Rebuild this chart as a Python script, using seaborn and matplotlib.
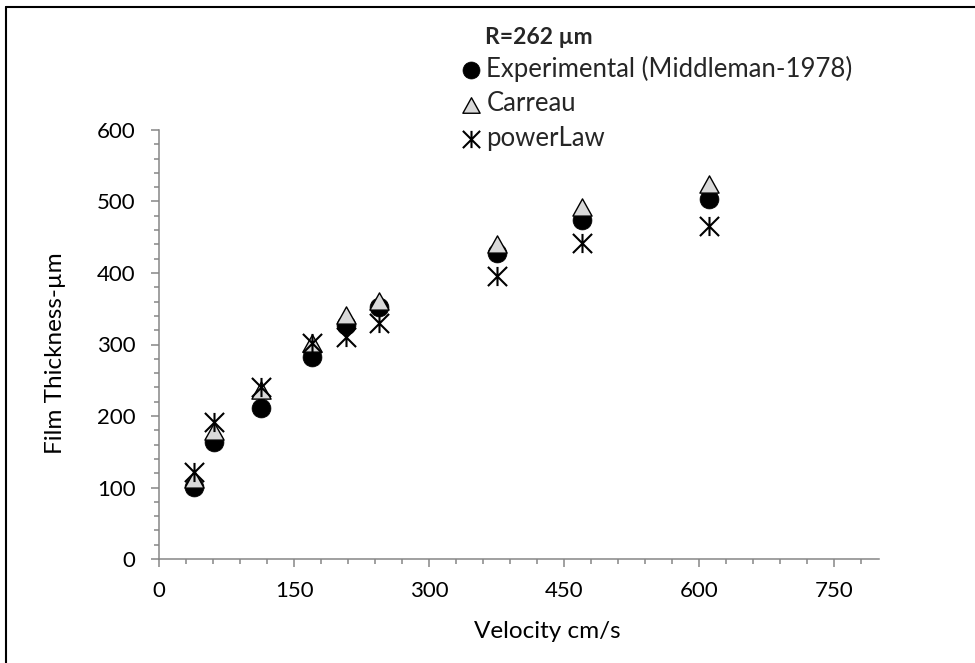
import numpy as np
import pandas as pd
import matplotlib
matplotlib.use("Agg")
import matplotlib.pyplot as plt
import seaborn as sns
from matplotlib.path import Path
from matplotlib.lines import Line2D
from matplotlib.ticker import MultipleLocator

# ---- data ----
velocity = [38, 61, 113, 170, 207, 244, 375, 470, 611]
experimental = [101, 164, 211, 283, 327, 353, 428, 474, 503]
carreau = [112, 179, 237, 302, 341, 361, 441, 492, 525]
power_law = [122, 192, 241, 302, 310, 330, 396, 442, 466]
series_names = ["Experimental (Middleman-1978)", "Carreau", "powerLaw"]
legend_title = "R=262 µm"
x_label = "Velocity cm/s"
y_label = "Film Thickness-µm"
x_ticks = [0, 150, 300, 450, 600, 750]
y_ticks = [0, 100, 200, 300, 400, 500, 600]

sns.set_theme(style="white")
plt.rcParams["font.family"] = ["Lato", "DejaVu Sans"]

W, H = 975, 663
fig = plt.figure(figsize=(W / 100, H / 100), dpi=100)
ax = fig.add_axes([159.3 / W, (H - 559) / H, 720 / W, 429 / H])

# custom markers
tri = Path([(0, 0.9), (-1, -0.9), (1, -0.9), (0, 0.9)],
           [Path.MOVETO, Path.LINETO, Path.LINETO, Path.CLOSEPOLY])
star = Path([(0, -1), (0, 1), (-1, -1), (1, 1), (-1, 1), (1, -1)],
            [Path.MOVETO, Path.LINETO] * 3)

sns.scatterplot(x=velocity, y=experimental, marker="o", s=185, color="black",
                edgecolor="black", linewidth=0.5, ax=ax, label=series_names[0], zorder=3)
sns.scatterplot(x=velocity, y=carreau, marker=tri, s=190, color="#d9d9d9",
                edgecolor="black", linewidth=1.0, ax=ax, label=series_names[1], zorder=4)
sns.scatterplot(x=velocity, y=power_law, marker=star, s=190, color="black",
                edgecolor="black", linewidth=1.5, ax=ax, label=series_names[2], zorder=5)

ax.set_xlim(0, 800)
ax.set_ylim(0, 600)
ax.set_xticks(x_ticks)
ax.set_yticks(y_ticks)
ax.xaxis.set_minor_locator(MultipleLocator(30))
ax.yaxis.set_minor_locator(MultipleLocator(20))

for s in ["top", "right"]:
    ax.spines[s].set_visible(False)
for s in ["left", "bottom"]:
    ax.spines[s].set_color("#868686")
    ax.spines[s].set_linewidth(1.1)

ax.tick_params(which="major", direction="out", length=6, width=1.1, color="#868686",
               labelsize=16, labelcolor="black")
ax.tick_params(which="minor", direction="out", length=3.5, width=1.1, color="#868686")
ax.tick_params(axis="x", which="major", pad=10, bottom=True)
ax.tick_params(axis="x", which="minor", bottom=True)
ax.tick_params(axis="y", which="major", pad=11, left=True)
ax.tick_params(axis="y", which="minor", left=True)

ax.set_xlabel(x_label, fontsize=17.5, color="black")
ax.set_ylabel(y_label, fontsize=17.5, color="black")
ax.xaxis.label.set_va("center")
ax.yaxis.label.set_va("center")
ax.xaxis.set_label_coords((547 - 159.3) / 720, (559 - 631) / 429)
ax.yaxis.set_label_coords((55 - 159.3) / 720, (559 - 353) / 429)

handles, labels = ax.get_legend_handles_labels()
if ax.get_legend() is not None:
    ax.get_legend().remove()
fig.legend(handles, labels, loc="upper left", bbox_to_anchor=(458 / W, 1 - 56 / H),
           frameon=False, fontsize=18.5, handlelength=1.0, handletextpad=0.1,
           borderpad=0, borderaxespad=0, labelspacing=0.36, markerscale=0.9)
fig.text(485 / W, 1 - 38 / H, legend_title, fontsize=16.5, fontweight="bold",
         ha="left", va="center")

# outer frame (left and top lines visible in the reference)
fig.add_artist(Line2D([6 / W, 6 / W], [0, 1 - 7 / H], transform=fig.transFigure,
                      color="black", lw=1.5))
fig.add_artist(Line2D([6 / W, 1], [1 - 7 / H, 1 - 7 / H], transform=fig.transFigure,
                      color="black", lw=1.5))

fig.savefig("out.png", dpi=100)
